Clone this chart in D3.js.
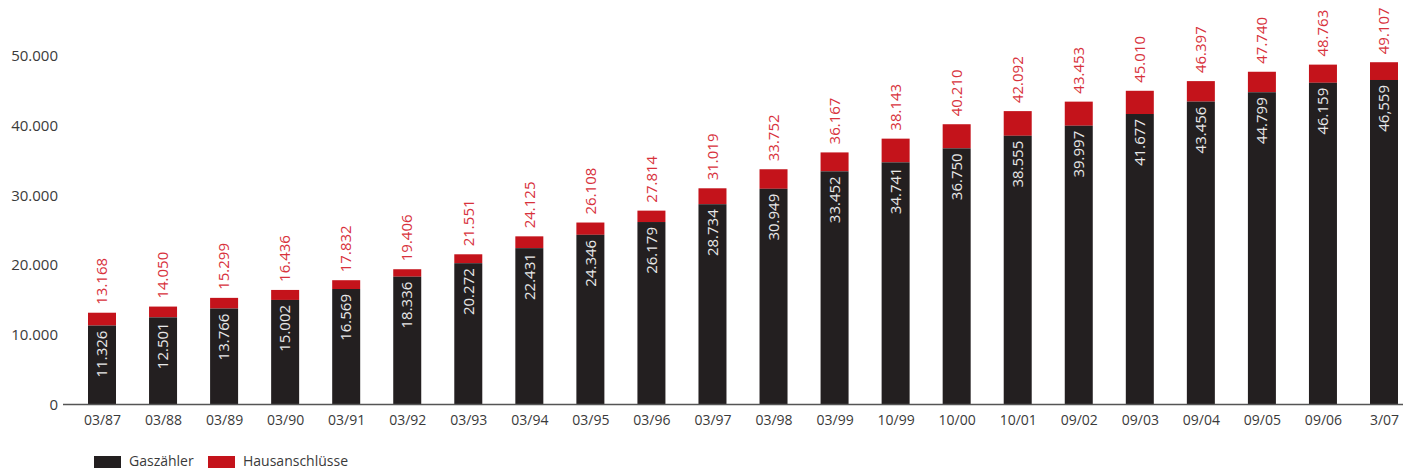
<!DOCTYPE html>
<html>
<head>
<meta charset="utf-8">
<script src="https://cdn.jsdelivr.net/npm/d3@7"></script>
<style>
  html, body { margin: 0; padding: 0; background: #fff; }
  svg { display: block; font-family: "Open Sans", sans-serif; }
</style>
</head>
<body>
<svg id="chart" width="1403" height="470"></svg>
<script>
// Stichtage
const categories = ["03/87","03/88","03/89","03/90","03/91","03/92","03/93","03/94","03/95","03/96","03/97",
                    "03/98","03/99","10/99","10/00","10/01","09/02","09/03","09/04","09/05","09/06","3/07"];
// Anzahl Gaszähler
const gaszaehler = [11326,12501,13766,15002,16569,18336,20272,22431,24346,26179,28734,
                    30949,33452,34741,36750,38555,39997,41677,43456,44799,46159,46559];
// Anzahl Hausanschlüsse
const hausanschluesse = [13168,14050,15299,16436,17832,19406,21551,24125,26108,27814,31019,
                         33752,36167,38143,40210,42092,43453,45010,46397,47740,48763,49107];
// Beschriftungen in den Balken
const gasLabels = ["11.326","12.501","13.766","15.002","16.569","18.336","20.272","22.431","24.346","26.179","28.734",
                   "30.949","33.452","34.741","36.750","38.555","39.997","41.677","43.456","44.799","46.159","46,559"];
const yTicks = [0, 10000, 20000, 30000, 40000, 50000];
const seriesNames = ["Gaszähler", "Hausanschlüsse"];
const colors = { gas: "#231f20", haus: "#c4131b", hausText: "#d8323c" };

const de = d3.formatLocale({ decimal: ",", thousands: ".", grouping: [3], currency: ["", " €"] });
const fmt = de.format(",d");

const svg = d3.select("#chart");
const baseY = 404.5;

const x = d3.scalePoint().domain(categories).range([102, 1384]);
const y = d3.scaleLinear().domain([0, 50000]).range([baseY, 56]);
const barW = 28;

// y-Achse: nur Beschriftungen
const yAxis = svg.append("g")
  .attr("transform", "translate(58,0)")
  .call(d3.axisLeft(y).tickValues(yTicks).tickSize(0).tickPadding(0)
        .tickFormat(d => d === 0 ? "0" : fmt(d)));
yAxis.select(".domain").remove();
yAxis.selectAll("text")
  .attr("font-size", 15).attr("fill", "#3a3a3a")
  .attr("font-family", "'Open Sans', sans-serif");

const rows = categories.map((c, i) => ({ c, gas: gaszaehler[i], haus: hausanschluesse[i], gl: gasLabels[i] }));

// Hausanschlüsse (roter Teil oberhalb der Gaszähler)
svg.append("g").selectAll("rect").data(rows).join("rect")
  .attr("x", d => x(d.c) - barW / 2)
  .attr("y", d => y(d.haus))
  .attr("width", barW)
  .attr("height", d => y(d.gas) - y(d.haus))
  .attr("fill", colors.haus);

// Gaszähler (schwarz)
svg.append("g").selectAll("rect").data(rows).join("rect")
  .attr("x", d => x(d.c) - barW / 2)
  .attr("y", d => y(d.gas))
  .attr("width", barW)
  .attr("height", d => baseY - y(d.gas))
  .attr("fill", colors.gas);

// Werte Hausanschlüsse über den Balken
svg.append("g").selectAll("text").data(rows).join("text")
  .attr("transform", d => `translate(${x(d.c)},${y(d.haus) - 8}) rotate(-90)`)
  .attr("dy", "0.35em")
  .attr("text-anchor", "start")
  .attr("font-size", 15)
  .attr("fill", colors.hausText)
  .text(d => fmt(d.haus));

// Werte Gaszähler in den Balken
svg.append("g").selectAll("text").data(rows).join("text")
  .attr("transform", d => `translate(${x(d.c)},${y(d.gas) + 5}) rotate(-90)`)
  .attr("dy", "0.35em")
  .attr("text-anchor", "end")
  .attr("font-size", 15)
  .attr("fill", "#e8e8e8")
  .text(d => d.gl);

// x-Achse
const xAxis = svg.append("g")
  .attr("transform", `translate(0,${baseY})`)
  .call(d3.axisBottom(x).tickSize(0).tickPadding(11));
xAxis.select(".domain").remove();
xAxis.append("line")
  .attr("x1", 63).attr("x2", 1403).attr("y1", 0).attr("y2", 0)
  .attr("stroke", "#555").attr("stroke-width", 1.5);
xAxis.selectAll("text")
  .attr("font-size", 14).attr("fill", "#3a3a3a")
  .attr("font-family", "'Open Sans', sans-serif");

// Legende
const legend = svg.append("g").attr("transform", "translate(94,456)");
const items = [
  { name: seriesNames[0], color: colors.gas, x: 0 },
  { name: seriesNames[1], color: colors.haus, x: 114 }
];
const li = legend.selectAll("g").data(items).join("g")
  .attr("transform", d => `translate(${d.x},0)`);
li.append("rect").attr("width", 27).attr("height", 12).attr("fill", d => d.color);
li.append("text").attr("x", 35).attr("y", 10)
  .attr("font-size", 14).attr("fill", "#3a3a3a")
  .text(d => d.name);
</script>
</body>
</html>
